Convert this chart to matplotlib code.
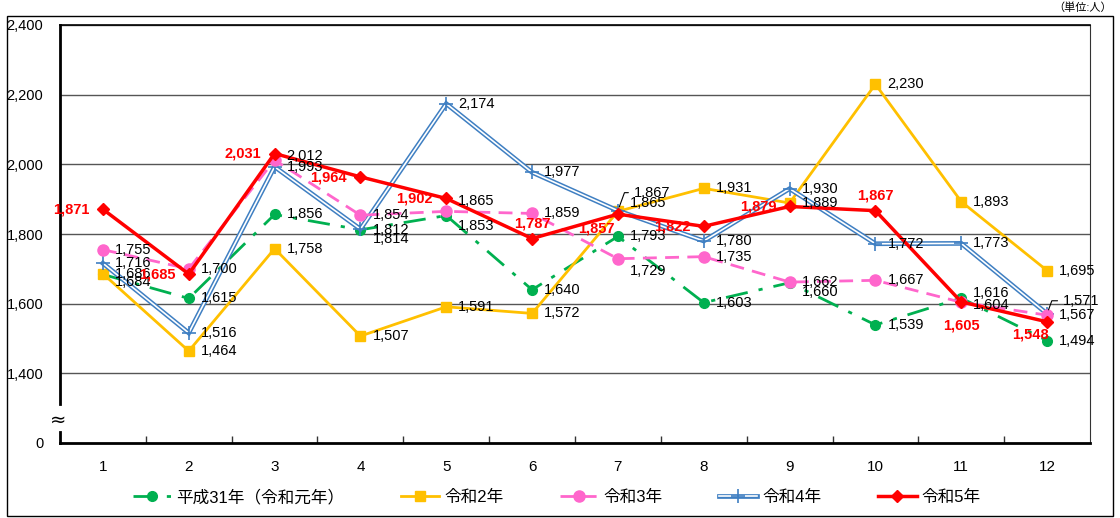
import numpy as np
import matplotlib
matplotlib.use('Agg')
import matplotlib.pyplot as plt
from matplotlib.patches import Rectangle
from matplotlib.legend_handler import HandlerTuple

plt.rcParams['font.family'] = ['Liberation Sans', 'Noto Sans CJK JP']

months = [1, 2, 3, 4, 5, 6, 7, 8, 9, 10, 11, 12]
month_labels = [str(m) for m in months]

h31 = [1684, 1615, 1856, 1812, 1853, 1640, 1793, 1603, 1660, 1539, 1616, 1494]
r2 = [1686, 1464, 1758, 1507, 1591, 1572, 1865, 1931, 1889, 2230, 1893, 1695]
r3 = [1755, 1700, 2012, 1854, 1865, 1859, 1729, 1735, 1662, 1667, 1604, 1567]
r4 = [1716, 1516, 1993, 1814, 2174, 1977, 1867, 1780, 1930, 1772, 1773, 1571]
r5 = [1871, 1685, 2031, 1964, 1902, 1787, 1857, 1822, 1879, 1867, 1605, 1548]

series_names = ['平成31年（令和元年）', '令和2年', '令和3年', '令和4年', '令和5年']

y_ticks = [1200, 1400, 1600, 1800, 2000, 2200, 2400]
y_tick_labels = ['0', '1,400', '1,600', '1,800', '2,000', '2,200', '2,400']

green = '#00b050'
yellow = '#ffc000'
pink = '#ff66cc'
blue = '#3f7fc2'
red = '#ff0000'

fig = plt.figure(figsize=(11.2, 5.18), dpi=100)
ax = fig.add_axes([60 / 1120, 75 / 518, 1030 / 1120, 418 / 518])

# gridlines
for v in y_ticks[1:]:
    ax.axhline(v, color='#555555', lw=1, zorder=1)

l1, = ax.plot(months, h31, color=green, lw=2, ls=(0, (8, 4, 1.5, 4)),
              marker='o', ms=7, zorder=3)
l2, = ax.plot(months, r2, color=yellow, lw=2, marker='s', ms=7, zorder=3)
# double line for 令和4年
l4a, = ax.plot(months, r4, color=blue, lw=3.4, zorder=4, solid_joinstyle='miter')
l4b, = ax.plot(months, r4, color='white', lw=1.2, zorder=4, solid_joinstyle='miter')
l4c, = ax.plot(months, r4, ls='none', marker='+', ms=10, mew=1.2, color=blue, zorder=4)
l3, = ax.plot(months, r3, color=pink, lw=2, ls=(0, (5, 3)), marker='o', ms=8, zorder=5)
l5, = ax.plot(months, r5, color=red, lw=2.5, marker='D', ms=6, zorder=6)

# data labels: offsets in pixels
black_off = {
    ('h31', 1): (12, -8), ('r4', 4): (12, -10), ('r3', 5): (12, 10),
    ('h31', 5): (12, -10), ('r4', 7): (16, 18), ('r2', 7): (12, 8),
    ('r3', 7): (12, -12), ('h31', 9): (12, -9), ('h31', 11): (12, 5),
    ('r3', 11): (12, -3), ('r4', 12): (16, 13), ('r3', 3): (12, 4),
}
leaders = [('r4', 7), ('r4', 12)]
for key, vals in [('h31', h31), ('r2', r2), ('r3', r3), ('r4', r4)]:
    for m, v in zip(months, vals):
        dx, dy = black_off.get((key, m), (12, 0))
        ap = None
        if (key, m) in leaders:
            ap = dict(arrowstyle='-', color='black', lw=0.8, shrinkA=2, shrinkB=3,
                      connectionstyle='angle,angleA=0,angleB=70,rad=0')
        ax.annotate(f'{v:,}', (m, v), xytext=(dx, dy), textcoords='offset pixels',
                    ha='left', va='center', fontsize=10.5, color='black', zorder=7,
                    arrowprops=ap)

red_off = {
    6: (0, 15, 'center'), 7: (-3, -14, 'right'), 10: (0, 15, 'center'),
    11: (0, -24, 'center'), 12: (-17, -13, 'center'), 4: (-14, -1, 'right'),
}
for m, v in zip(months, r5):
    dx, dy, ha = red_off.get(m, (-13, 0, 'right'))
    ax.annotate(f'{v:,}', (m, v), xytext=(dx, dy), textcoords='offset pixels',
                ha=ha, va='center', fontsize=10.5, color=red, fontweight='bold', zorder=8)

ax.set_xlim(0.5, 12.5)
ax.set_ylim(1200, 2400)
ax.set_xticks(months)
ax.set_xticklabels(month_labels, fontsize=11)
ax.set_xticks(np.arange(1.5, 12, 1), minor=True)
ax.tick_params(axis='x', which='major', length=0, pad=12)
ax.tick_params(axis='x', which='minor', direction='in', length=5, width=1, color='#333333')
ax.set_yticks(y_ticks)
ax.set_yticklabels(y_tick_labels, fontsize=10.5)
ax.tick_params(axis='y', length=0, pad=12)

ax.spines['bottom'].set_linewidth(2)
ax.spines['top'].set_linewidth(1.2)
ax.spines['right'].set_color('#333333')
ax.spines['left'].set_visible(False)
# broken left axis
ax.plot([0, 0], [0, 11 / 418], transform=ax.transAxes, color='black', lw=2, clip_on=False)
ax.plot([0, 0], [39 / 418, 1], transform=ax.transAxes, color='black', lw=2, clip_on=False)
ax.text(-0.002, 23 / 418, '≈', transform=ax.transAxes, ha='center', va='center',
        fontsize=14, family='DejaVu Sans')

handles = [l1, l2, l3, (l4a, l4b, l4c), l5]
fig.legend(handles, series_names, loc='center', bbox_to_anchor=(0.497, 0.04), ncol=5,
           frameon=False, fontsize=12, handlelength=2.3, columnspacing=3.4,
           handletextpad=0.3, handler_map={tuple: HandlerTuple(ndivide=1)})

fig.text(1112 / 1120, 1 - 8 / 518, '（単位:人）', ha='right', va='center', fontsize=8)
fig.patches.append(Rectangle((7 / 1120, 2 / 518), 1106 / 1120, 500 / 518,
                             transform=fig.transFigure, fill=False, edgecolor='black', lw=1))

fig.savefig('out.png', dpi=100)
